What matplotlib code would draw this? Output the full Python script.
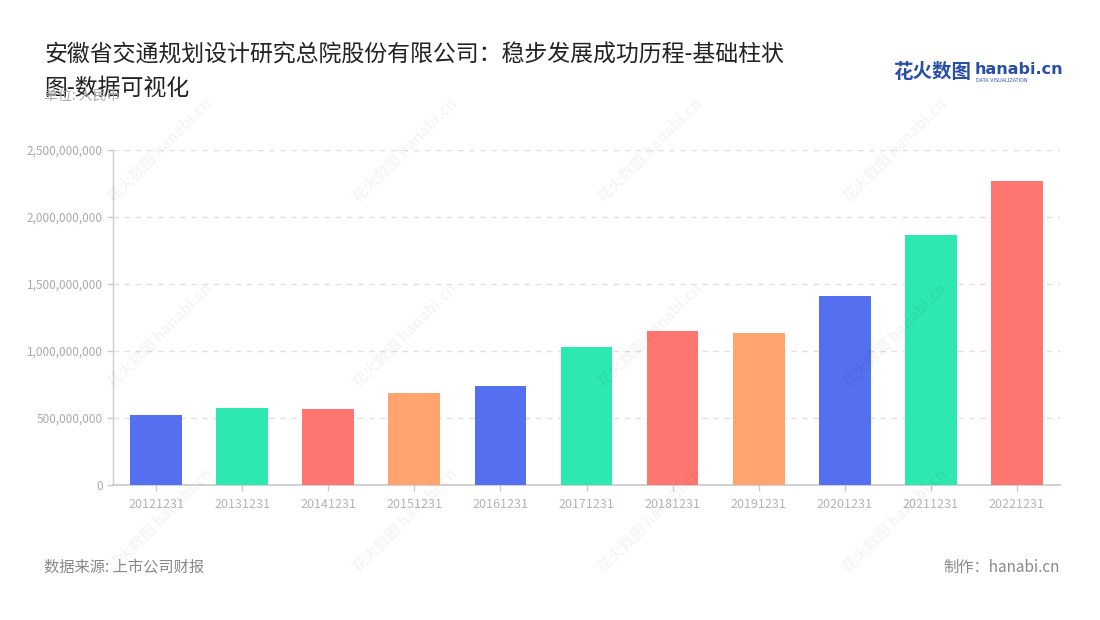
import matplotlib
matplotlib.use("Agg")
import matplotlib.pyplot as plt
from matplotlib.ticker import FuncFormatter, MultipleLocator

plt.rcParams['font.family'] = ['Noto Sans CJK SC', 'DejaVu Sans']

categories = ["20121231", "20131231", "20141231", "20151231", "20161231", "20171231",
              "20181231", "20191231", "20201231", "20211231", "20221231"]
values = [522e6, 574e6, 567e6, 686e6, 739e6, 1029e6, 1149e6, 1134e6, 1410e6, 1865e6, 2268e6]
palette = ["#5470f0", "#2de8b0", "#ff7670", "#ffa46e"]

title_line1 = "安徽省交通规划设计研究总院股份有限公司：稳步发展成功历程-基础柱状"
title_line2 = "图-数据可视化"
unit = "单位: 人民币"
source = "数据来源: 上市公司财报"
maker = "制作：hanabi.cn"

fig = plt.figure(figsize=(11, 6.2), dpi=100)
ax = fig.add_axes([113/1100, 1-485/620, (1060-113)/1100, (485-150)/620])

colors = [palette[i % len(palette)] for i in range(len(values))]
x = list(range(len(categories)))
ax.bar(x, values, width=0.6, color=colors, zorder=3)

ax.set_xlim(-0.5, len(categories) - 0.5)
ax.set_ylim(0, 2.5e9)
ax.yaxis.set_major_locator(MultipleLocator(5e8))
ax.yaxis.set_major_formatter(FuncFormatter(lambda v, p: f"{int(v):,}"))
ax.set_xticks(x)
ax.set_xticklabels(categories)

ax.grid(axis='y', color='#e0e0e0', linestyle=(0, (4, 4)), linewidth=1, zorder=0)
for s in ['top', 'right']:
    ax.spines[s].set_visible(False)
ax.spines['left'].set_color('#cccccc')
ax.spines['bottom'].set_color('#c8c8c8')
ax.spines['left'].set_linewidth(1)
ax.spines['bottom'].set_linewidth(1.2)
ax.tick_params(axis='y', colors='#cccccc', labelcolor='#aaaaaa', labelsize=8.5, length=4, width=1)
ax.tick_params(axis='x', colors='#c8c8c8', labelcolor='#b0b4c0', labelsize=9, length=4, width=1, pad=5)

# faint watermarks
wm_pos = [(160, 150), (405, 150), (650, 150), (895, 150),
          (160, 335), (405, 335), (650, 335), (895, 335),
          (160, 520), (405, 520), (650, 520), (895, 520)]
for px, py in wm_pos:
    fig.text(px/1100, 1-py/620, "花火数图 hanabi.cn", rotation=45, fontsize=11,
             color='#000000', alpha=0.04, ha='center', va='center', fontweight='bold', zorder=0)

fig.text(44/1100, 1-55/620, title_line1, fontsize=16.5, color='#222222', ha='left', va='center')
fig.text(44/1100, 1-88/620, title_line2, fontsize=16.5, color='#222222', ha='left', va='center')
fig.text(44/1100, 1-96/620, unit, fontsize=10, color='#aaaaaa', ha='left', va='center')

fig.text(44/1100, 1-567/620, source, fontsize=11, color='#888888', ha='left', va='center')
fig.text(1060/1100, 1-567/620, maker, fontsize=11, color='#888888', ha='right', va='center')

# logo
fig.text(893/1100, 1-72/620, "花火数图", fontsize=14, color='#2a4fa8', fontweight='bold', ha='left', va='center')
fig.text(975/1100, 1-70/620, "hanabi.cn", fontsize=11.5, color='#2a4fa8', fontweight='bold', ha='left', va='center',
         family=['DejaVu Sans'])
fig.text(976/1100, 1-80/620, "DATA VISUALIZATION", fontsize=3.5, color='#2a4fa8', ha='left', va='center',
         family=['DejaVu Sans'])

fig.savefig("out.png", dpi=100)
